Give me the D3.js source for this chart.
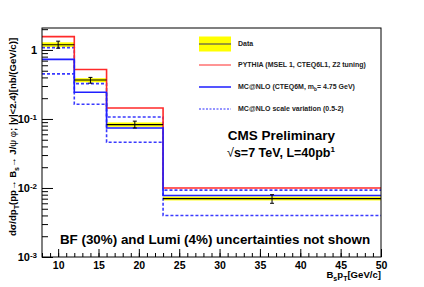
<!DOCTYPE html>
<html>
<head>
<meta charset="utf-8">
<script src="https://cdn.jsdelivr.net/npm/d3@7"></script>
<style>
  body { margin: 0; background: #fff; }
  text { font-family: "Liberation Sans", Arial, sans-serif; font-weight: bold; }
</style>
</head>
<body>
<svg id="chart" width="424" height="287"></svg>
<script>
// bin edges in Bs pT [GeV/c]
const binEdges = [8, 12, 16, 23, 50];
// measured points
const dataX = [10, 14, 19.5, 36.5];
const dataVal = [1.19, 0.367, 0.083, 0.0070];
const errLow = [1.06, 0.33, 0.074, 0.0060];
const errHigh = [1.34, 0.40, 0.093, 0.0080];
const bandLow = [1.10, 0.34, 0.077, 0.0066];
const bandHigh = [1.29, 0.39, 0.089, 0.0075];
// predictions
const pythia = [1.56, 0.52, 0.144, 0.0100];
const mcnlo = [0.73, 0.244, 0.074, 0.0078];
const mcnloUp = [1.08, 0.325, 0.107, 0.0093];
const mcnloDown = [0.45, 0.163, 0.046, 0.0040];
const xTicks = [10, 15, 20, 25, 30, 35, 40, 45, 50];
const yTicks = [1e-3, 1e-2, 1e-1, 1];

const padL = 42, padR = 381, padT = 28, padB = 257;
const svg = d3.select("#chart");

const x = d3.scaleLinear().domain([8, 50]).range([padL, padR]);
const y = d3.scaleLog().domain([1e-3, 2.08]).range([padB, padT]);

// step outline of a histogram
function steps(vals) {
    let pts = [];
    vals.forEach((v, i) => {
        pts.push([binEdges[i], v]);
        pts.push([binEdges[i + 1], v]);
    });
    return d3.line().x(d => x(d[0])).y(d => y(d[1]))(pts);
}

const g = svg.append("g");

// yellow bands for data
g.selectAll(".band")
    .data(dataVal)
    .enter()
    .append("rect")
    .attr("x", (d, i) => x(binEdges[i]))
    .attr("width", (d, i) => x(binEdges[i + 1]) - x(binEdges[i]))
    .attr("y", (d, i) => y(bandHigh[i]))
    .attr("height", (d, i) => y(bandLow[i]) - y(bandHigh[i]))
    .attr("fill", "#ffff00");

g.append("path").attr("d", steps(mcnloUp)).attr("fill", "none")
    .attr("stroke", "#3a3aff").attr("stroke-width", 1.6).attr("stroke-dasharray", "3,2");
g.append("path").attr("d", steps(mcnloDown)).attr("fill", "none")
    .attr("stroke", "#3a3aff").attr("stroke-width", 1.6).attr("stroke-dasharray", "3,2");
g.append("path").attr("d", steps(pythia)).attr("fill", "none")
    .attr("stroke", "#ff2a2a").attr("stroke-width", 1.6);
g.append("path").attr("d", steps(mcnlo)).attr("fill", "none")
    .attr("stroke", "#1f1fff").attr("stroke-width", 1.6);

// data central line per bin
g.selectAll(".dline")
    .data(dataVal)
    .enter()
    .append("line")
    .attr("x1", (d, i) => x(binEdges[i]))
    .attr("x2", (d, i) => x(binEdges[i + 1]))
    .attr("y1", d => y(d))
    .attr("y2", d => y(d))
    .attr("stroke", "#000")
    .attr("stroke-width", 1.2);

// error bars
const eb = g.selectAll(".err").data(dataVal).enter().append("g");
eb.append("line")
    .attr("x1", (d, i) => x(dataX[i])).attr("x2", (d, i) => x(dataX[i]))
    .attr("y1", (d, i) => y(errHigh[i])).attr("y2", (d, i) => y(errLow[i]))
    .attr("stroke", "#000");
eb.append("line")
    .attr("x1", (d, i) => x(dataX[i]) - 2).attr("x2", (d, i) => x(dataX[i]) + 2)
    .attr("y1", (d, i) => y(errHigh[i])).attr("y2", (d, i) => y(errHigh[i]))
    .attr("stroke", "#000");
eb.append("line")
    .attr("x1", (d, i) => x(dataX[i]) - 2).attr("x2", (d, i) => x(dataX[i]) + 2)
    .attr("y1", (d, i) => y(errLow[i])).attr("y2", (d, i) => y(errLow[i]))
    .attr("stroke", "#000");

// frame
svg.append("rect")
    .attr("x", padL).attr("y", padT)
    .attr("width", padR - padL).attr("height", padB - padT)
    .attr("fill", "none").attr("stroke", "#000");

// x axis, ticks inside
const xMinor = d3.range(8, 51, 1);
svg.append("g")
    .attr("transform", "translate(0," + padB + ")")
    .call(d3.axisBottom(x).tickValues(xMinor).tickSize(-4).tickFormat(""))
    .call(a => a.select(".domain").remove());
svg.append("g")
    .attr("transform", "translate(0," + padB + ")")
    .call(d3.axisBottom(x).tickValues(xTicks).tickSize(-8).tickFormat(d3.format("d")))
    .call(a => a.select(".domain").remove())
    .call(a => a.selectAll("text").attr("y", 11.5).attr("dy", "0")
        .style("font-size", "10.5px").style("font-family", "Liberation Sans, Arial").style("font-weight", "bold").attr("fill", "#000"));

// y axis, ticks inside
let yMinor = [];
yTicks.forEach(t => { for (let k = 2; k <= 9; k++) if (t * k <= 2.08) yMinor.push(t * k); });
svg.append("g")
    .attr("transform", "translate(" + padL + ",0)")
    .call(d3.axisLeft(y).tickValues(yMinor).tickSize(-6).tickFormat(""))
    .call(a => a.select(".domain").remove());
const yAx = svg.append("g")
    .attr("transform", "translate(" + padL + ",0)")
    .call(d3.axisLeft(y).tickValues(yTicks).tickSize(-11).tickPadding(5).tickFormat(""))
    .call(a => a.select(".domain").remove());
yAx.selectAll(".tick text")
    .attr("x", -5)
    .attr("dy", "0.35em")
    .style("font-size", "11px").attr("fill", "#000")
    .each(function(d) {
        const t = d3.select(this);
        const e = Math.round(Math.log10(d));
        if (e === 0) { t.text("1"); return; }
        t.append("tspan").text("10");
        t.append("tspan").attr("dy", "-0.45em").style("font-size", "8px").text(e);
    });

// axis titles
const yt = svg.append("text")
    .attr("transform", "translate(16," + 137 + ") rotate(-90)")
    .attr("text-anchor", "middle")
    .style("font-size", "9.6px");
yt.append("tspan").text("d\u03c3/dp");
yt.append("tspan").attr("dy", "2.5").style("font-size", "7px").text("T");
yt.append("tspan").attr("dy", "-2.5").text("(pp\u2192 B");
yt.append("tspan").attr("dy", "2.5").style("font-size", "7px").text("s");
yt.append("tspan").attr("dy", "-2.5").text("\u2192 J/");
yt.append("tspan").style("font-weight", "normal").text("\u03c8 \u03c6");
yt.append("tspan").text("; |y|<2.4)[nb/(GeV/c)]");

const xt = svg.append("text")
    .attr("x", padR).attr("y", 278)
    .attr("text-anchor", "end")
    .style("font-size", "9.6px");
xt.append("tspan").text("B");
xt.append("tspan").attr("dy", "2.5").style("font-size", "7px").text("s");
xt.append("tspan").attr("dy", "-2.5").text("p");
xt.append("tspan").attr("dy", "2.5").style("font-size", "7px").text("T");
xt.append("tspan").attr("dy", "-2.5").text("[GeV/c]");

// legend
const legItems = [
    {label: "Data", kind: "data"},
    {label: "PYTHIA (MSEL 1, CTEQ6L1, Z2 tuning)", kind: "pythia"},
    {label: "MC@NLO (CTEQ6M, m", sub: "b", rest: "= 4.75 GeV)", kind: "mcnlo"},
    {label: "MC@NLO scale variation (0.5-2)", kind: "scale"}
];
const legY = [44, 65, 87, 109];
const leg = svg.append("g");
legItems.forEach((it, i) => {
    const ly = legY[i];
    if (it.kind === "data") {
        leg.append("rect").attr("x", 199).attr("y", ly - 7.5).attr("width", 32).attr("height", 15).attr("fill", "#ffff00");
        leg.append("line").attr("x1", 199).attr("x2", 231).attr("y1", ly).attr("y2", ly).attr("stroke", "#555").attr("stroke-width", 1.2);
    } else if (it.kind === "pythia") {
        leg.append("line").attr("x1", 199).attr("x2", 231).attr("y1", ly).attr("y2", ly).attr("stroke", "#ff2a2a").attr("stroke-width", 1);
    } else if (it.kind === "mcnlo") {
        leg.append("line").attr("x1", 199).attr("x2", 231).attr("y1", ly).attr("y2", ly).attr("stroke", "#5555ff").attr("stroke-width", 2);
    } else {
        leg.append("line").attr("x1", 199).attr("x2", 231).attr("y1", ly).attr("y2", ly).attr("stroke", "#2a2aff").attr("stroke-width", 1).attr("stroke-dasharray", "2,1.5");
    }
    const t = leg.append("text").attr("x", 238).attr("y", ly + 2.4).style("font-size", "7px").attr("fill", "#222");
    t.append("tspan").text(it.label);
    if (it.sub) {
        t.append("tspan").attr("dy", "2").style("font-size", "4.8px").text(it.sub);
        t.append("tspan").attr("dy", "-2").text(it.rest);
    }
});

// annotations
svg.append("text").attr("x", 281.5).attr("y", 140).attr("text-anchor", "middle")
    .style("font-size", "13.5px").text("CMS Preliminary");
const sq = svg.append("text").attr("x", 281).attr("y", 157).attr("text-anchor", "middle")
    .style("font-size", "12.5px");
sq.append("tspan").style("font-weight", "normal").text("\u221a");
sq.append("tspan").text("s=7 TeV, L=40pb");
sq.append("tspan").attr("dy", "-5").style("font-size", "8px").text("1");

svg.append("text").attr("x", 215).attr("y", 244).attr("text-anchor", "middle")
    .style("font-size", "13.4px").text("BF (30%) and Lumi (4%) uncertainties not shown");
</script>
</body>
</html>
